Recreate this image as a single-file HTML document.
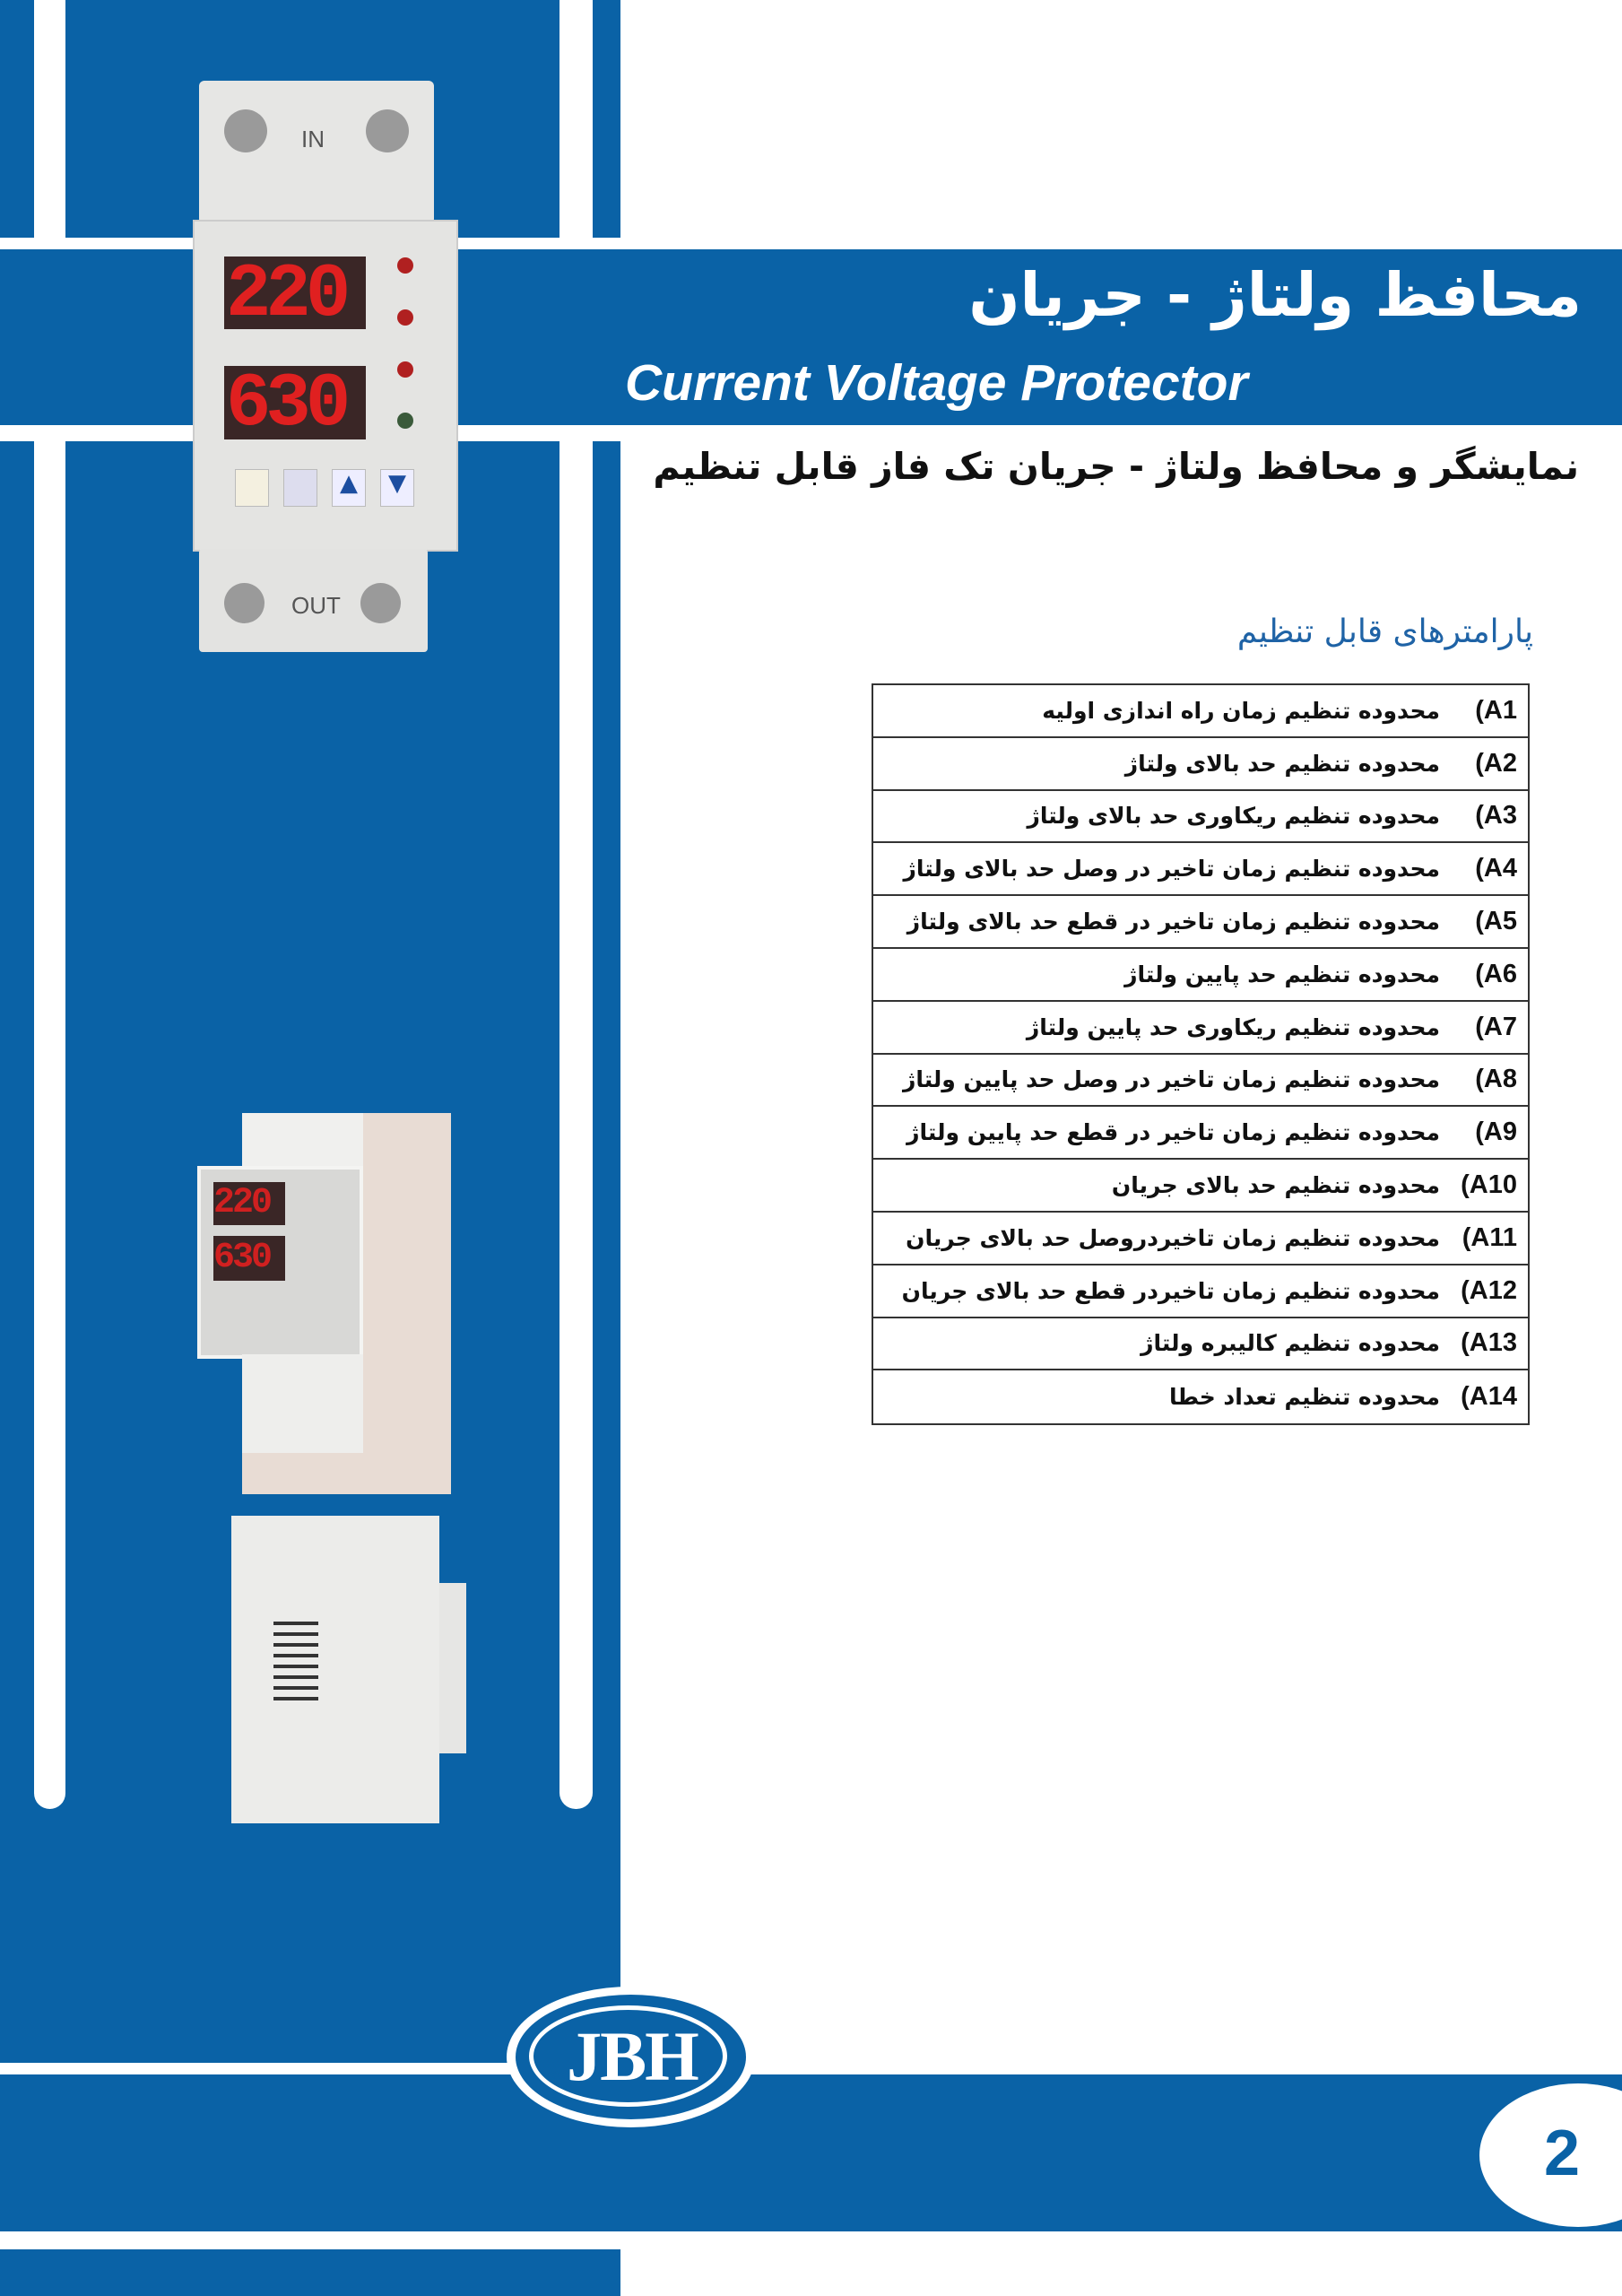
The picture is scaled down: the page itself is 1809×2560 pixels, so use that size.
<!DOCTYPE html>
<html><head><meta charset="utf-8"><style>
html,body{margin:0;padding:0}
body{width:1809px;height:2560px;position:relative;overflow:hidden;background:#fff;font-family:"DejaVu Sans","Liberation Sans",sans-serif}
.a{position:absolute}
.blue{background:#0a62a6}
.w{background:#fff}
.t{position:absolute;left:972px;top:762px;width:734px;border:2px solid #333;box-sizing:border-box}
.r{height:58.8px;border-bottom:2px solid #333;box-sizing:border-box;direction:rtl;display:flex;align-items:center;padding-right:12px;font-weight:bold;font-size:25px;color:#111;white-space:nowrap;overflow:hidden}
.r:last-child{border-bottom:none}
.r b{display:inline-block;width:74px;font-family:"Liberation Sans",sans-serif;font-size:29px;direction:ltr;unicode-bidi:bidi-override;text-align:right;margin-left:12px;flex:none}
</style></head><body>
<div class="a blue" style="left:0;top:0;width:692px;height:2560px"></div>
<div class="a w" style="left:38px;top:-20px;width:35px;height:2037px;border-radius:18px"></div>
<div class="a w" style="left:624px;top:-20px;width:37px;height:2037px;border-radius:18px"></div>
<div class="a w" style="left:0;top:265px;width:1809px;height:227px"></div>
<div class="a blue" style="left:0;top:278px;width:1809px;height:196px"></div>
<div class="a w" style="left:0;top:2300px;width:692px;height:13px"></div>
<div class="a blue" style="left:0;top:2313px;width:1809px;height:175px"></div>
<div class="a w" style="left:0;top:2488px;width:1809px;height:20px"></div>
<div class="a w" style="left:1650px;top:2323px;width:220px;height:160px;border-radius:50%"></div>
<div class="a" style="left:1722px;top:2360px;font-family:'Liberation Sans',sans-serif;font-weight:bold;font-size:72px;color:#0a62a6">2</div>
<div class="a w" style="left:565px;top:2215px;width:277px;height:157px;border-radius:50%"></div>
<div class="a blue" style="left:575px;top:2224px;width:257px;height:139px;border-radius:50%"></div>
<div class="a" style="left:590px;top:2236px;width:221px;height:113px;border-radius:50%;border:5px solid #fff;box-sizing:border-box"></div>
<div class="a" style="left:600px;top:2248px;width:210px;text-align:center;font-family:'Liberation Serif',serif;font-weight:bold;font-size:78px;color:#fff;letter-spacing:-2px">JBH</div>
<div class="a" style="right:45px;top:290px;direction:rtl;font-weight:bold;font-size:67px;color:#fff">محافظ ولتاژ - جریان</div>
<div class="a" style="left:697px;top:394px;font-family:'Liberation Sans',sans-serif;font-weight:bold;font-style:italic;font-size:57px;color:#fff">Current Voltage Protector</div>
<div class="a" style="right:48px;top:496px;direction:rtl;font-weight:bold;font-size:41px;color:#111">نمایشگر و محافظ ولتاژ - جریان تک فاز قابل تنظیم</div>
<div class="a" style="right:99px;top:684px;direction:rtl;font-size:36px;color:#1f63a6">پارامترهای قابل تنظیم</div>
<div class="t">
<div class="r"><b>(A1</b>محدوده تنظیم زمان راه اندازی اولیه</div>
<div class="r"><b>(A2</b>محدوده تنظیم حد بالای ولتاژ</div>
<div class="r"><b>(A3</b>محدوده تنظیم ریکاوری حد بالای ولتاژ</div>
<div class="r"><b>(A4</b>محدوده تنظیم زمان تاخیر در وصل حد بالای ولتاژ</div>
<div class="r"><b>(A5</b>محدوده تنظیم زمان تاخیر در قطع حد بالای ولتاژ</div>
<div class="r"><b>(A6</b>محدوده تنظیم حد پایین ولتاژ</div>
<div class="r"><b>(A7</b>محدوده تنظیم ریکاوری حد پایین ولتاژ</div>
<div class="r"><b>(A8</b>محدوده تنظیم زمان تاخیر در وصل حد پایین ولتاژ</div>
<div class="r"><b>(A9</b>محدوده تنظیم زمان تاخیر در قطع حد پایین ولتاژ</div>
<div class="r"><b>(A10</b>محدوده تنظیم حد بالای جریان</div>
<div class="r"><b>(A11</b>محدوده تنظیم زمان تاخیردروصل حد بالای جریان</div>
<div class="r"><b>(A12</b>محدوده تنظیم زمان تاخیردر قطع حد بالای جریان</div>
<div class="r"><b>(A13</b>محدوده تنظیم کالیبره ولتاژ</div>
<div class="r"><b>(A14</b>محدوده تنظیم تعداد خطا</div>
</div>
<!-- device 1 -->
<div class="a" style="left:222px;top:90px;width:262px;height:160px;background:#e6e6e4;border-radius:6px"></div>
<div class="a" style="left:250px;top:122px;width:48px;height:48px;border-radius:50%;background:#9a9a9a"></div>
<div class="a" style="left:408px;top:122px;width:48px;height:48px;border-radius:50%;background:#9a9a9a"></div>
<div class="a" style="left:336px;top:140px;font-family:'Liberation Sans';font-size:26px;color:#555">IN</div>
<div class="a" style="left:215px;top:245px;width:296px;height:370px;background:#e4e4e2;border:2px solid #ccc;box-sizing:border-box"></div>
<div class="a" style="left:250px;top:286px;width:158px;height:81px;background:#3a2626"></div>
<div class="a" style="left:252px;top:282px;font-family:'Liberation Mono';font-weight:bold;font-size:84px;color:#e02020;letter-spacing:-6px">220</div>
<div class="a" style="left:250px;top:408px;width:158px;height:82px;background:#3a2626"></div>
<div class="a" style="left:252px;top:404px;font-family:'Liberation Mono';font-weight:bold;font-size:84px;color:#e02020;letter-spacing:-6px">630</div>
<div class="a" style="left:443px;top:287px;width:18px;height:18px;border-radius:50%;background:#b02020"></div>
<div class="a" style="left:443px;top:345px;width:18px;height:18px;border-radius:50%;background:#b02020"></div>
<div class="a" style="left:443px;top:403px;width:18px;height:18px;border-radius:50%;background:#b02020"></div>
<div class="a" style="left:443px;top:460px;width:18px;height:18px;border-radius:50%;background:#3a5a3a"></div>
<div class="a" style="left:262px;top:523px;width:36px;height:40px;background:#f4f0e0;border:1px solid #bbb"></div>
<div class="a" style="left:316px;top:523px;width:36px;height:40px;background:#dde;border:1px solid #bbb"></div>
<div class="a" style="left:370px;top:523px;width:36px;height:40px;background:#eef;border:1px solid #bbb;color:#1c4ea0;text-align:center;font-size:26px">▲</div>
<div class="a" style="left:424px;top:523px;width:36px;height:40px;background:#eef;border:1px solid #bbb;color:#1c4ea0;text-align:center;font-size:26px">▼</div>
<div class="a" style="left:222px;top:612px;width:255px;height:115px;background:#e3e3e1;border-radius:4px"></div>
<div class="a" style="left:250px;top:650px;width:45px;height:45px;border-radius:50%;background:#9a9a9a"></div>
<div class="a" style="left:402px;top:650px;width:45px;height:45px;border-radius:50%;background:#9a9a9a"></div>
<div class="a" style="left:325px;top:660px;font-family:'Liberation Sans';font-size:26px;color:#555">OUT</div>
<!-- device 2 -->
<div class="a" style="left:270px;top:1241px;width:233px;height:425px;background:#e8dcd4"></div>
<div class="a" style="left:270px;top:1241px;width:135px;height:70px;background:#f0f0ee"></div>
<div class="a" style="left:220px;top:1300px;width:185px;height:215px;background:#d8d8d6;border:4px solid #f4f4f2;box-sizing:border-box"></div>
<div class="a" style="left:238px;top:1318px;width:80px;height:48px;background:#3a2626;color:#d02020;font-family:'Liberation Mono';font-weight:bold;font-size:40px;line-height:48px;letter-spacing:-3px">220</div>
<div class="a" style="left:238px;top:1378px;width:80px;height:50px;background:#3a2626;color:#d02020;font-family:'Liberation Mono';font-weight:bold;font-size:40px;line-height:50px;letter-spacing:-3px">630</div>
<div class="a" style="left:270px;top:1510px;width:135px;height:110px;background:#eeeeec"></div>
<!-- device 3 -->
<div class="a" style="left:258px;top:1690px;width:232px;height:343px;background:#ececea"></div>
<div class="a" style="left:490px;top:1765px;width:30px;height:190px;background:#e6e6e4"></div>
<div class="a" style="left:305px;top:1800px;width:50px;height:100px;background:repeating-linear-gradient(#ececea 0 8px,#333 8px 12px)"></div>
</body></html>
